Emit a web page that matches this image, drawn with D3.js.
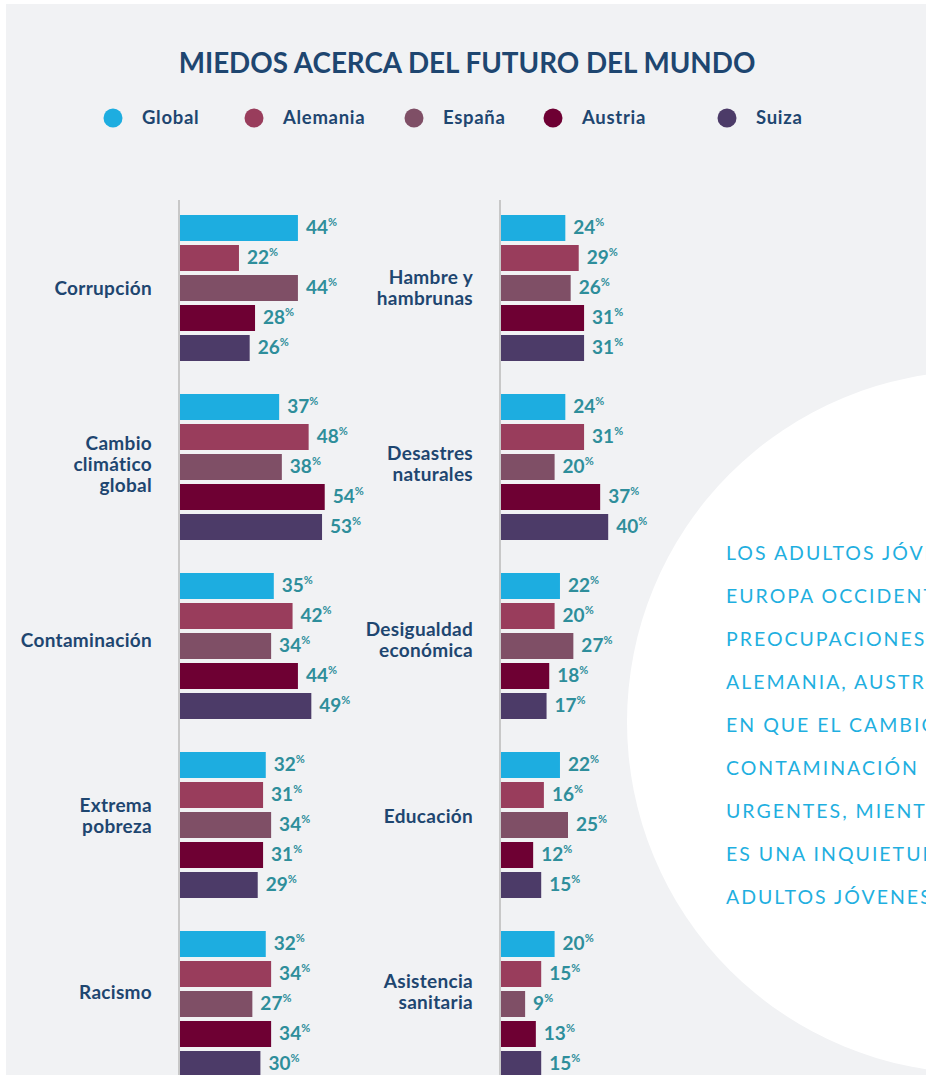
<!DOCTYPE html>
<html>
<head>
<meta charset="utf-8">
<title>Miedos acerca del futuro del mundo</title>
<script src="https://cdn.jsdelivr.net/npm/d3@7/dist/d3.min.js"></script>
<style>
  html, body { margin: 0; padding: 0; background: #fff; }
  svg { display: block; }
  text { font-family: Lato, "Noto Sans", sans-serif; }
</style>
</head>
<body>
<svg id="chart" width="926" height="1075"></svg>
<script>
// series and categories
const series = ["Global", "Alemania", "España", "Austria", "Suiza"];
const colors = ["#1dade0", "#993d5c", "#7f4f66", "#6e0033", "#4c3b68"];

const leftCats = [["Corrupción"], ["Cambio", "climático", "global"], ["Contaminación"], ["Extrema", "pobreza"], ["Racismo"]];
const leftValues = [
  [44, 22, 44, 28, 26],
  [37, 48, 38, 54, 53],
  [35, 42, 34, 44, 49],
  [32, 31, 34, 31, 29],
  [32, 34, 27, 34, 30]
];

const rightCats = [["Hambre y", "hambrunas"], ["Desastres", "naturales"], ["Desigualdad", "económica"], ["Educación"], ["Asistencia", "sanitaria"]];
const rightValues = [
  [24, 29, 26, 31, 31],
  [24, 31, 20, 37, 40],
  [22, 20, 27, 18, 17],
  [22, 16, 25, 12, 15],
  [20, 15, 9, 13, 15]
];

const noteLines = [
  "LOS ADULTOS JÓVENES DE",
  "EUROPA OCCIDENTAL TIENEN",
  "PREOCUPACIONES SIMILARES:",
  "ALEMANIA, AUSTRIA Y SUIZA COINCIDEN",
  "EN QUE EL CAMBIO CLIMÁTICO Y LA",
  "CONTAMINACIÓN SON LOS TEMAS MÁS",
  "URGENTES, MIENTRAS QUE LA CORRUPCIÓN",
  "ES UNA INQUIETUD PARA LOS",
  "ADULTOS JÓVENES ESPAÑOLES"
];

const navy = "#1e4670";
const teal = "#2e8e9b";

const svg = d3.select("#chart");

// panel background
svg.append("rect").attr("x", 6).attr("y", 4).attr("width", 920).attr("height", 1071).attr("fill", "#f1f2f4");

// white circle on the right
svg.append("circle").attr("cx", 978).attr("cy", 722).attr("r", 351).attr("fill", "#fff");

svg.append("text")
  .attr("x", 467).attr("y", 73)
  .attr("text-anchor", "middle")
  .attr("font-size", 27.8).attr("font-weight", 700)
  .attr("fill", navy)
  .text("MIEDOS ACERCA DEL FUTURO DEL MUNDO");

// legend
const legendX = [113, 254, 414, 553, 727];
const legend = svg.append("g").selectAll("g").data(series).join("g")
  .attr("transform", (d, i) => `translate(${legendX[i]},118)`);
legend.append("circle").attr("r", 9.5).attr("fill", (d, i) => colors[i]);
legend.append("text")
  .attr("x", 29).attr("dy", "0.35em")
  .attr("font-size", 18.5).attr("font-weight", 700)
  .attr("letter-spacing", 0.7)
  .attr("fill", navy)
  .text(d => d);

// scales
const x = d3.scaleLinear().domain([0, 100]).range([0, 268]);
const group = d3.scaleBand().domain(d3.range(5)).range([215, 1077]).paddingInner(33 / 179);
const inner = d3.scaleBand().domain(series).range([0, group.bandwidth()]).paddingInner(4 / 30);

function panel(x0, labelX, cats, values) {
  const g = svg.append("g");
  g.append("line")
    .attr("x1", x0 - 1).attr("x2", x0 - 1)
    .attr("y1", 200).attr("y2", 1075)
    .attr("stroke", "#c8c8c8").attr("stroke-width", 2);

  const groups = g.selectAll("g.grp").data(values).join("g")
    .attr("class", "grp")
    .attr("transform", (d, i) => `translate(0,${group(i)})`);

  groups.selectAll("rect").data(d => d).join("rect")
    .attr("x", x0)
    .attr("y", (d, j) => inner(series[j]))
    .attr("width", d => x(d))
    .attr("height", inner.bandwidth())
    .attr("fill", (d, j) => colors[j]);

  const lbl = groups.selectAll("text.val").data(d => d).join("text")
    .attr("class", "val")
    .attr("x", d => x0 + x(d) + 8)
    .attr("y", (d, j) => inner(series[j]) + inner.bandwidth() / 2)
    .attr("dy", "0.36em")
    .attr("fill", teal)
    .attr("font-weight", 700);
  lbl.append("tspan").attr("font-size", 19).text(d => d);
  lbl.append("tspan").attr("font-size", 11).attr("dy", "-0.75em").text("%");

  groups.each(function(d, i) {
    const lines = cats[i];
    // labels sit slightly higher further down the list
    const mid = group.bandwidth() / 2 - i * 3;
    const lh = 21;
    const t = d3.select(this).append("text")
      .attr("text-anchor", "end")
      .attr("font-size", 19).attr("font-weight", 700)
      .attr("letter-spacing", 0.3)
      .attr("fill", navy);
    lines.forEach((s, k) => {
      t.append("tspan")
        .attr("x", labelX)
        .attr("y", mid + (k - (lines.length - 1) / 2) * lh)
        .attr("dy", "0.35em")
        .text(s);
    });
  });
}

panel(180, 152, leftCats, leftValues);
panel(501, 473, rightCats, rightValues);

// note in the circle
svg.append("g").selectAll("text").data(noteLines).join("text")
  .attr("x", 726)
  .attr("y", (d, i) => 553 + i * 43)
  .attr("dy", "0.35em")
  .attr("font-size", 19.5)
  .attr("letter-spacing", 2.0)
  .attr("fill", "#1fafe0")
  .text(d => d);
</script>
</body>
</html>
